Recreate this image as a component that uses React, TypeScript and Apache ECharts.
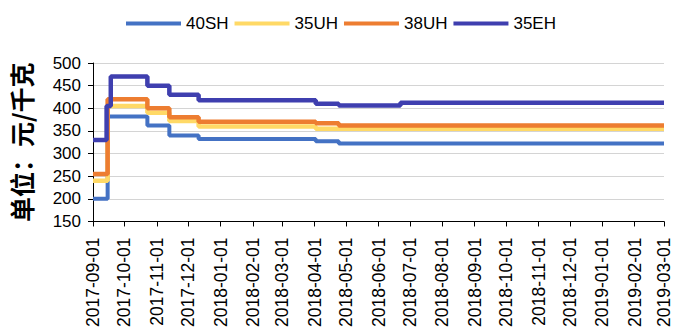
import React, { useEffect, useRef } from 'react';
import * as echarts from 'echarts';

const startDate = '2017-09-01';
const endDate = '2019-03-01';
const yMin = 150;
const yMax = 500;
const yStep = 50;
const yAxisTitle = '单位：元/千克';

const seriesNames = ['40SH', '35UH', '38UH', '35EH'];
const seriesColors = ['#4472C4', '#FFD966', '#ED7D31', '#3F3FAF'];

// step-change points: [date, price]
const s40SH: [string, number][] = [
  ['2017-09-01', 200], ['2017-09-15', 382], ['2017-10-23', 362], ['2017-11-13', 340],
  ['2017-12-11', 332], ['2018-04-02', 327], ['2018-04-24', 322], ['2019-03-01', 322],
];
const s35UH: [string, number][] = [
  ['2017-09-01', 240], ['2017-09-15', 405], ['2017-10-23', 390], ['2017-11-13', 372],
  ['2017-12-11', 360], ['2018-04-02', 355], ['2019-03-01', 355],
];
const s38UH: [string, number][] = [
  ['2017-09-01', 255], ['2017-09-15', 420], ['2017-10-23', 400], ['2017-11-13', 380],
  ['2017-12-11', 370], ['2018-04-02', 367], ['2018-04-24', 362], ['2019-03-01', 362],
];
const s35EH: [string, number][] = [
  ['2017-09-01', 330], ['2017-09-14', 405], ['2017-09-18', 470], ['2017-10-23', 450],
  ['2017-11-13', 430], ['2017-12-11', 418], ['2018-04-02', 410], ['2018-04-24', 406],
  ['2018-06-22', 412], ['2019-03-01', 412],
];
const allSeries = [s40SH, s35UH, s38UH, s35EH];

const DAY = 86400000;
const toTime = (d: string) => {
  const [y, m, dd] = d.split('-').map(Number);
  return new Date(y, m - 1, dd).getTime();
};

export default function App() {
  const ref = useRef<HTMLDivElement>(null);
  useEffect(() => {
    if (!ref.current) return;
    const chart = echarts.init(ref.current, null, { renderer: 'svg' });
    const font = 'Liberation Sans, Arial, sans-serif';
    chart.setOption({
      animation: false,
      textStyle: { fontFamily: font },
      legend: {
        left: 121,
        top: 10,
        itemWidth: 55,
        itemHeight: 4,
        itemGap: 6,
        icon: 'rect',
        textStyle: { fontSize: 17, color: '#000', fontFamily: font },
        data: seriesNames,
      },
      grid: { left: 93, right: 3, top: 63, bottom: 103, containLabel: false },
      xAxis: {
        type: 'time',
        min: toTime(startDate),
        max: toTime(endDate),
        minInterval: 28 * DAY,
        maxInterval: 31 * DAY,
        axisLine: { show: true, lineStyle: { color: '#000', width: 1 } },
        axisTick: { show: true, length: 5, lineStyle: { color: '#000' } },
        splitLine: { show: false },
        axisLabel: {
          rotate: 90,
          margin: 16,
          fontSize: 17.5,
          color: '#000',
          fontFamily: font,
          formatter: '{yyyy}-{MM}-{dd}',
          showMinLabel: true,
          showMaxLabel: true,
          hideOverlap: false,
        },
      },
      yAxis: {
        type: 'value',
        min: yMin,
        max: yMax,
        interval: yStep,
        name: yAxisTitle,
        nameLocation: 'middle',
        nameRotate: 90,
        nameGap: 60,
        nameTextStyle: {
          fontSize: 25,
          fontWeight: 'bold',
          color: '#000',
          fontFamily: 'Noto Sans CJK SC',
        },
        axisLine: { show: true, lineStyle: { color: '#000', width: 1 } },
        axisTick: { show: true, length: 5, lineStyle: { color: '#000' } },
        splitLine: { show: true, lineStyle: { color: '#d4d4d4', width: 1 } },
        axisLabel: { margin: 12, fontSize: 17, color: '#000', fontFamily: font },
      },
      series: seriesNames.map((name, i) => ({
        name,
        type: 'line',
        step: 'end',
        symbol: 'none',
        color: seriesColors[i],
        lineStyle: { width: i === 0 ? 4 : 4.5, color: seriesColors[i] },
        data: allSeries[i].map(([d, v]) => [toTime(d), v]),
      })),
    });
    return () => chart.dispose();
  }, []);
  return (
    <div
      ref={ref}
      style={{ position: 'fixed', left: 0, top: 0, width: 673, height: 330, background: '#fff' }}
    />
  );
}
